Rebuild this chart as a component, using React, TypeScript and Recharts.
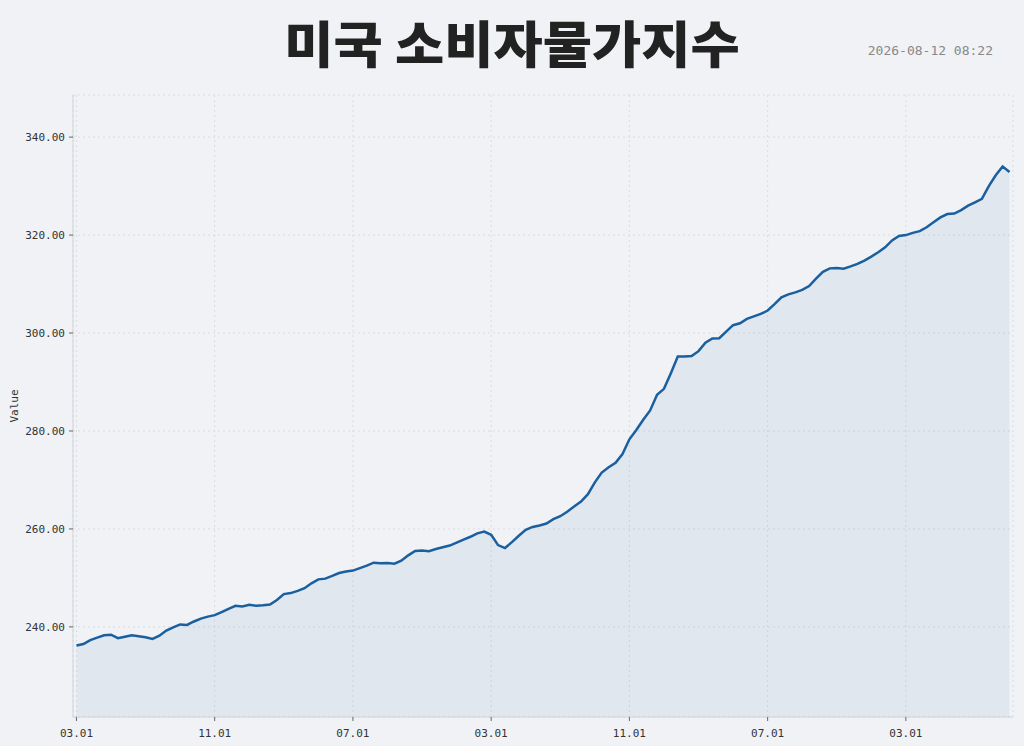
import {
  Area,
  AreaChart,
  CartesianGrid,
  XAxis,
  YAxis,
} from "recharts";

// Monthly index values, March 2015 to June 2026
const cpi2015 = [236.2, 236.5, 237.3, 237.8, 238.3, 238.4, 237.7, 238.0, 238.3, 238.1];
const cpi2016 = [237.9, 237.55, 238.2, 239.25, 239.9, 240.5, 240.4, 241.1, 241.7, 242.1, 242.4, 243.0];
const cpi2017 = [243.7, 244.3, 244.15, 244.5, 244.3, 244.4, 244.55, 245.5, 246.7, 246.9, 247.35, 247.9];
const cpi2018 = [248.9, 249.7, 249.85, 250.4, 251.0, 251.3, 251.5, 252.0, 252.5, 253.1, 253.0, 253.05];
const cpi2019 = [252.9, 253.5, 254.6, 255.5, 255.6, 255.45, 255.9, 256.25, 256.6, 257.2, 257.8, 258.4];
const cpi2020 = [259.1, 259.45, 258.8, 256.7, 256.1, 257.3, 258.6, 259.8, 260.4, 260.7, 261.1, 262.0];
const cpi2021 = [262.6, 263.5, 264.6, 265.6, 267.1, 269.5, 271.5, 272.6, 273.5, 275.3, 278.3, 280.2];
const cpi2022 = [282.3, 284.2, 287.4, 288.6, 291.8, 295.2, 295.2, 295.3, 296.3, 298.0, 298.9, 298.95];
const cpi2023 = [300.3, 301.6, 302.0, 302.9, 303.4, 303.9, 304.6, 305.9, 307.3, 307.9, 308.3, 308.8];
const cpi2024 = [309.6, 311.1, 312.5, 313.2, 313.3, 313.15, 313.6, 314.1, 314.8, 315.6, 316.5, 317.5];
const cpi2025 = [318.9, 319.8, 320.0, 320.45, 320.8, 321.6, 322.6, 323.6, 324.3, 324.4, 325.1, 326.0];
const cpi2026 = [326.7, 327.4, 330.0, 332.2, 334.0, 332.9];

const series: [number, number, number[]][] = [
  [2015, 3, cpi2015],
  [2016, 1, cpi2016],
  [2017, 1, cpi2017],
  [2018, 1, cpi2018],
  [2019, 1, cpi2019],
  [2020, 1, cpi2020],
  [2021, 1, cpi2021],
  [2022, 1, cpi2022],
  [2023, 1, cpi2023],
  [2024, 1, cpi2024],
  [2025, 1, cpi2025],
  [2026, 1, cpi2026],
];

const data = series.flatMap(([year, firstMonth, values]) =>
  values.map((value, k) => ({ year, month: firstMonth + k, value }))
).map((d, i) => ({ ...d, i }));

const xTicks = [0, 20, 40, 60, 80, 100, 120];
const yTicks = [240, 260, 280, 300, 320, 340];

const TITLE = "미국 소비자물가지수";
const STAMP = "2026-08-12 08:22";

const BG = "#f0f2f6";
const LINE = "#1a5f9e";
const FRAME = "#d0d4da";
const MONO = "'DejaVu Sans Mono', monospace";

const monthLabel = (i: number) => {
  const d = data[i];
  return d ? `${String(d.month).padStart(2, "0")}.01` : "";
};

export default function App() {
  return (
    <div
      style={{
        position: "fixed",
        left: 0,
        top: 0,
        width: 1024,
        height: 746,
        background: BG,
        overflow: "hidden",
      }}
    >
      <div
        style={{
          position: "absolute",
          left: 0,
          width: 1024,
          top: 9,
          textAlign: "center",
          fontFamily: "'Noto Sans CJK KR', sans-serif",
          fontWeight: 900,
          fontSize: 50,
          lineHeight: "64px",
          color: "#222",
          transform: "scaleX(1.07)",
          transformOrigin: "512px 0",
        }}
      >
        {TITLE}
      </div>
      <div
        style={{
          position: "absolute",
          right: 31,
          top: 43,
          fontFamily: MONO,
          fontSize: 13,
          color: "#888",
        }}
      >
        {STAMP}
      </div>
      <div style={{ position: "absolute", left: 0, top: 0 }}>
        <AreaChart
          width={1024}
          height={746}
          data={data}
          margin={{ top: 95, right: 11, bottom: 0, left: 0 }}
        >
          <CartesianGrid stroke="#d9dce2" strokeDasharray="2 3" />
          <XAxis
            dataKey="i"
            type="number"
            domain={[-0.5, 135.5]}
            ticks={xTicks}
            tickFormatter={monthLabel}
            height={29}
            stroke={FRAME}
            tickSize={4}
            tickMargin={8}
            tickLine={{ stroke: "#666" }}
            tick={{ fontFamily: MONO, fontSize: 11, fill: "#333" }}
          />
          <XAxis
            xAxisId="top"
            orientation="top"
            dataKey="i"
            type="number"
            domain={[-0.5, 135.5]}
            height={0}
            tick={false}
            tickLine={false}
            stroke={FRAME}
          />
          <YAxis
            type="number"
            domain={[221.6, 348.6]}
            ticks={yTicks}
            tickFormatter={(v: number) => v.toFixed(2)}
            width={73}
            stroke={FRAME}
            tickSize={4}
            tickMargin={4}
            tickLine={{ stroke: "#666" }}
            tick={{ fontFamily: MONO, fontSize: 11, fill: "#333" }}
            label={{
              value: "Value",
              angle: -90,
              position: "insideLeft",
              offset: 14,
              style: { fontFamily: MONO, fontSize: 11, fill: "#333", textAnchor: "middle" },
            }}
          />
          <YAxis
            yAxisId="right"
            orientation="right"
            domain={[221.6, 348.6]}
            width={0}
            tick={false}
            tickLine={false}
            stroke={FRAME}
          />
          <Area
            type="linear"
            dataKey="value"
            stroke={LINE}
            strokeWidth={2.5}
            fill={LINE}
            fillOpacity={0.07}
            dot={false}
            activeDot={false}
            isAnimationActive={false}
          />
        </AreaChart>
      </div>
    </div>
  );
}
